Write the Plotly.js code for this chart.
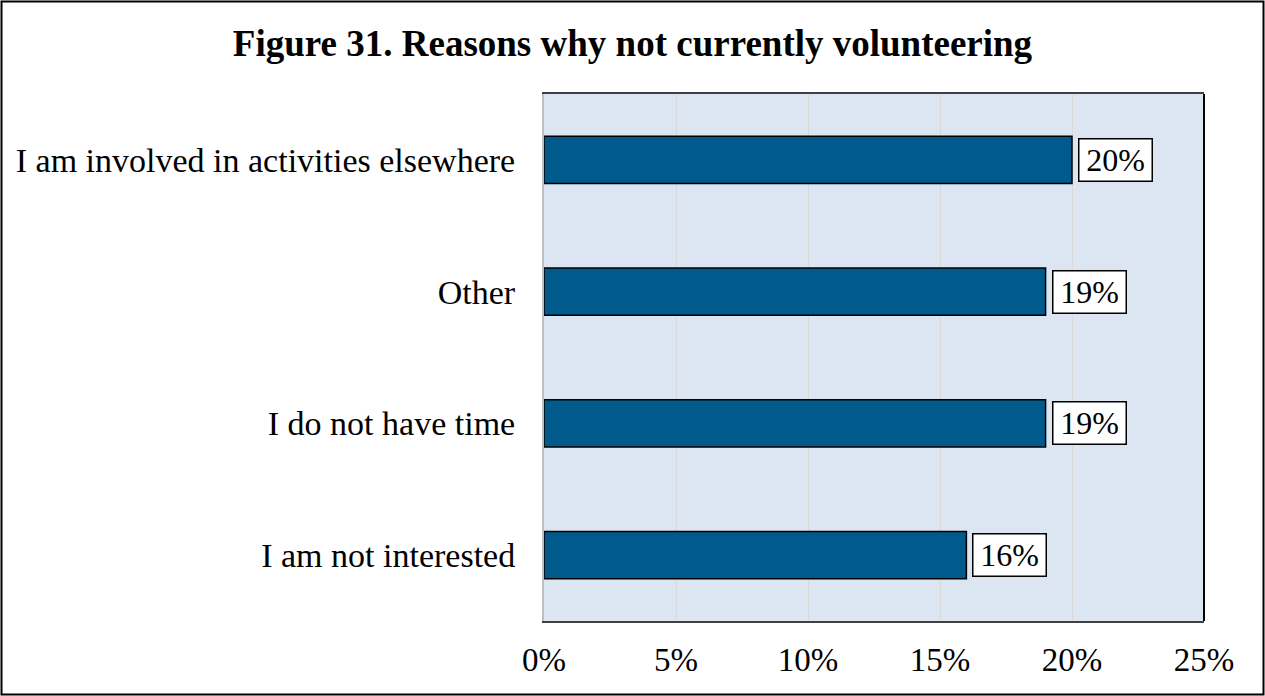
<!DOCTYPE html>
<html>
<head>
<meta charset="utf-8">
<script src="https://cdn.plot.ly/plotly-3.0.1.min.js"></script>
<style>
  html, body { margin: 0; padding: 0; background: #fff; }
  #chart { width: 1265px; height: 696px; }
</style>
</head>
<body>
<div id="chart"></div>
<script>
// Data (bottom to top as drawn)
const categories = ["I am not interested", "I do not have time", "Other", "I am involved in activities elsewhere"];
const values = [16, 19, 19, 20];
const valueLabels = ["16%", "19%", "19%", "20%"];
const tickValues = [0, 5, 10, 15, 20, 25];
const tickLabels = ["0%", "5%", "10%", "15%", "20%", "25%"];

const FONT = "'Liberation Serif', 'Times New Roman', serif";
const W = 1265, H = 696;
const L = 544, R = 1204, T = 94, B = 621;
const pw = R - L, ph = B - T;
const px = x => (x - L) / pw;
const py = y => (B - y) / ph;

const trace = {
  type: 'bar',
  orientation: 'h',
  x: values,
  y: categories,
  marker: { color: '#005A8C', line: { color: '#000000', width: 1.5 } },
  hoverinfo: 'skip'
};

const annotations = values.map((v, i) => ({
  x: v, y: categories[i], xref: 'x', yref: 'y',
  text: valueLabels[i], showarrow: false,
  xanchor: 'left', yanchor: 'middle', xshift: 6,
  width: 68, height: 37, align: 'center', valign: 'middle',
  bgcolor: '#ffffff', bordercolor: '#000000', borderwidth: 1.5, borderpad: 2,
  font: { family: FONT, size: 32, color: '#000' }
}));

const layout = {
  width: W, height: H,
  margin: { l: L, r: W - R, t: T, b: H - B, pad: 0 },
  paper_bgcolor: '#ffffff',
  plot_bgcolor: '#DCE6F2',
  bargap: 0.64,
  showlegend: false,
  title: {
    text: '<b>Figure 31. Reasons why not currently volunteering</b>',
    font: { family: FONT, size: 37, color: '#000' },
    x: 0.5, xref: 'container', xanchor: 'center',
    y: 1 - 43 / H, yref: 'container', yanchor: 'middle'
  },
  xaxis: {
    range: [0, 25],
    tickvals: tickValues, ticktext: tickLabels,
    showgrid: true, gridcolor: '#D9D9D9', gridwidth: 1,
    zeroline: false,
    showline: true, linecolor: '#404040', linewidth: 2, mirror: true,
    ticks: '', ticklabelstandoff: 8,
    tickfont: { family: FONT, size: 33, color: '#000' },
    fixedrange: true
  },
  yaxis: {
    categoryorder: 'array', categoryarray: categories,
    showgrid: false, zeroline: false,
    showline: true, linecolor: '#BFBFBF', linewidth: 2,
    ticks: '', ticklabelstandoff: 20,
    tickfont: { family: FONT, size: 34, color: '#000' },
    fixedrange: true
  },
  annotations: annotations,
  shapes: [
    { type: 'line', xref: 'paper', yref: 'paper', x0: 1, x1: 1, y0: 0, y1: 1,
      line: { color: '#000', width: 2 } },
    { type: 'rect', xref: 'paper', yref: 'paper',
      x0: px(1.5), x1: px(W - 1.5), y0: py(H - 1.5), y1: py(1.5),
      line: { color: '#000', width: 2 }, fillcolor: 'rgba(0,0,0,0)', layer: 'above' }
  ]
};

Plotly.newPlot('chart', [trace], layout, { displayModeBar: false, staticPlot: true });
</script>
</body>
</html>
